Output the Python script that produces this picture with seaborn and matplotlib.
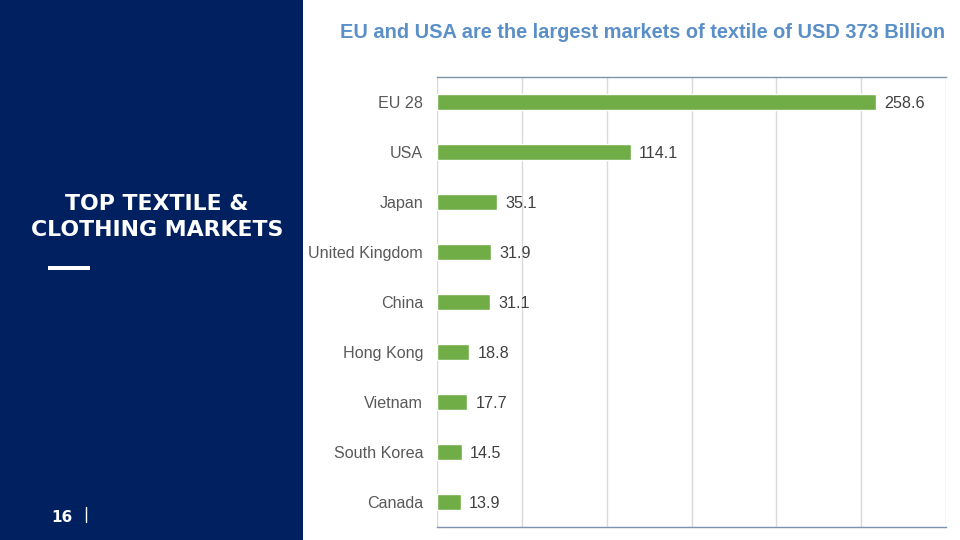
import matplotlib
matplotlib.use("Agg")
import matplotlib.pyplot as plt
import seaborn as sns
import pandas as pd

countries = ["EU 28", "USA", "Japan", "United Kingdom", "China", "Hong Kong",
             "Vietnam", "South Korea", "Canada"]
values = [258.6, 114.1, 35.1, 31.9, 31.1, 18.8, 17.7, 14.5, 13.9]
title = "EU and USA are the largest markets of textile of USD 373 Billion"
side_title = "TOP TEXTILE &\nCLOTHING MARKETS"
page_no = "16"

sns.set_theme(style="white")
plt.rcParams['font.family'] = ['Liberation Sans', 'DejaVu Sans']

df = pd.DataFrame({"country": countries, "value": values})

fig = plt.figure(figsize=(9.6, 5.4), dpi=100)
fig.patch.set_facecolor("white")

# Left navy panel
fig.patches.append(matplotlib.patches.Rectangle((0, 0), 303 / 960, 1, transform=fig.transFigure,
                                                 facecolor="#002060", edgecolor="none", zorder=0))
fig.text(157 / 960, 1 - 217 / 540, side_title, color="white", fontsize=15.8, fontweight="bold",
         ha="center", va="center", family=["DejaVu Sans"], linespacing=1.34)
fig.patches.append(matplotlib.patches.Rectangle((48 / 960, 1 - 270 / 540), 42 / 960, 4 / 540,
                                                 transform=fig.transFigure, facecolor="white",
                                                 edgecolor="none"))
fig.text(62 / 960, 1 - 518 / 540, page_no, color="white", fontsize=11, fontweight="bold",
         ha="center", va="center", family=["DejaVu Sans"])
fig.lines.append(matplotlib.lines.Line2D([86 / 960, 86 / 960], [1 - 522 / 540, 1 - 507 / 540],
                                          transform=fig.transFigure, color="white", lw=1))

fig.text(643 / 960, 1 - 33 / 540, title, color="#5b8fc7", fontsize=14.4, fontweight="bold",
         ha="center", va="center")

ax = fig.add_axes([437 / 960, 1 - 527 / 540, (946 - 437) / 960, (527 - 77) / 540])
sns.barplot(data=df, y="country", x="value", orient="h", color="#70ad47", width=0.32,
            saturation=1, ax=ax, zorder=3)
ax.set_xlim(0, 300)
ax.set_ylim(8.5, -0.5)
ax.set_xticks(range(0, 301, 50))
ax.xaxis.grid(True, color="#d9d9d9", lw=1, zorder=0)
ax.set_axisbelow(True)
ax.tick_params(axis="x", labelbottom=False, length=0)
ax.tick_params(axis="y", length=0, labelsize=11.6, labelcolor="#595959", pad=10)
ax.set_xlabel("")
ax.set_ylabel("")
for s in ["left", "right"]:
    ax.spines[s].set_visible(False)
for s in ["top", "bottom"]:
    ax.spines[s].set_color("#7f93ad")
    ax.spines[s].set_linewidth(1)
for i, v in enumerate(values):
    ax.text(v + 5, i + 0.02, f"{v:.1f}", va="center", ha="left", fontsize=11.6, color="#404040")

fig.savefig("out.png", dpi=100)
